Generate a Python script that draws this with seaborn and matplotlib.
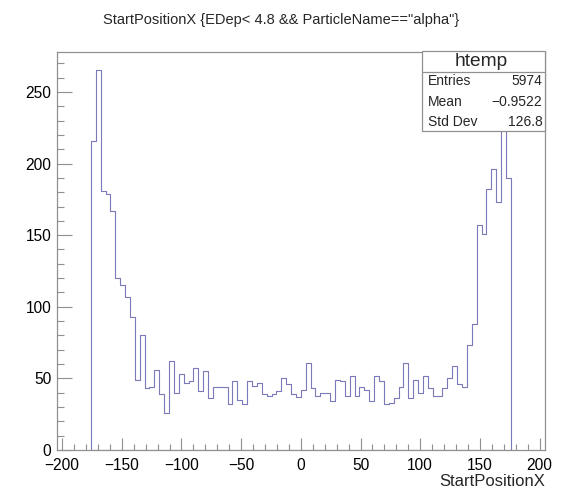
import numpy as np
import pandas as pd
import matplotlib
matplotlib.use("Agg")
import matplotlib.pyplot as plt
from matplotlib.ticker import MultipleLocator
from matplotlib.patches import Rectangle
from matplotlib.lines import Line2D
import seaborn as sns

# Histogram contents of StartPositionX (100 bins over the axis range,
# only the filled bins are listed, starting at bin index 7)
counts = [216, 265, 181, 179, 167, 120, 115, 107, 93, 49,
          80, 43, 44, 56, 39, 26, 62, 40, 53, 47,
          48, 57, 41, 55, 36, 44, 44, 44, 32, 48,
          35, 32, 48, 45, 47, 39, 38, 39, 41, 50,
          46, 39, 37, 42, 61, 43, 38, 40, 40, 34,
          49, 48, 38, 52, 38, 44, 42, 34, 52, 48,
          32, 33, 36, 44, 61, 36, 49, 40, 52, 43,
          38, 38, 43, 50, 59, 46, 44, 73, 88, 157,
          151, 182, 196, 173, 241, 190]
x_min, x_max, n_bins = -204.5, 204.5, 100
first_filled = 7

stat_title = "htemp"
stat_names = ["Entries", "Mean", "Std Dev"]
stat_values = ["5974", "\u22120.9522", "126.8"]

title = 'StartPositionX {EDep< 4.8 && ParticleName=="alpha"}'
x_label = "StartPositionX"

sns.set_style("white")
plt.rcParams["font.family"] = ["Liberation Sans", "DejaVu Sans"]

W, H = 565, 491
fig = plt.figure(figsize=(W / 100, H / 100), dpi=100)

def fx(px):
    return px / W

def fy(py):
    return 1 - py / H

left, right, top, bottom = 56.7, 545.0, 51.5, 450.0
ax = fig.add_axes([fx(left), fy(bottom), fx(right) - fx(left), fy(top) - fy(bottom)])

edges_all = np.linspace(x_min, x_max, n_bins + 1)
edges = [float(e) for e in edges_all[first_filled:first_filled + len(counts) + 1]]
centers = [0.5 * (a + b) for a, b in zip(edges[:-1], edges[1:])]
df = pd.DataFrame({"x": centers, "n": counts})

line_color = "#7a7abb"
sns.histplot(data=df, x="x", weights="n", bins=edges, element="step", fill=True,
             color=line_color, ax=ax)
# outline only, closed down to zero at both ends
for coll in ax.collections:
    coll.set_facecolor("none")
    coll.set_edgecolor(line_color)
    coll.set_alpha(1)
    coll.set_linewidth(0.8)

ax.set_xlim(x_min, x_max)
ax.set_ylim(0, max(counts) * 1.05)
ax.set_ylabel("")
ax.set_xlabel("")

frame_color = "#909090"
for s in ax.spines.values():
    s.set_color(frame_color)
    s.set_linewidth(0.9)
    s.set_zorder(3)

ax.xaxis.set_major_locator(MultipleLocator(50))
ax.xaxis.set_minor_locator(MultipleLocator(10))
ax.yaxis.set_major_locator(MultipleLocator(50))
ax.yaxis.set_minor_locator(MultipleLocator(10))
ax.tick_params(bottom=True, left=True, top=False, right=False, which="both")
ax.tick_params(axis="x", which="major", direction="in", length=8.6, width=0.8,
               color=frame_color, labelsize=11.2, pad=5.5, labelcolor="black")
ax.tick_params(axis="x", which="minor", direction="in", length=4.3, width=0.8,
               color=frame_color)
ax.tick_params(axis="y", which="major", direction="in", length=10.5, width=0.8,
               color=frame_color, labelsize=11.2, pad=4, labelcolor="black")
ax.tick_params(axis="y", which="minor", direction="in", length=5.3, width=0.8,
               color=frame_color)

fig.text(fx(right), fy(482), x_label, ha="right", va="center", fontsize=12)
fig.text(fx(281.5), fy(20), title, ha="center", va="center", fontsize=10.5)

# statistics box
bx0, bx1, by0, by1 = 421.5, 545, 51, 130.5
fig.patches.append(Rectangle((fx(bx0), fy(by1)), fx(bx1) - fx(bx0), fy(by0) - fy(by1),
                             transform=fig.transFigure, facecolor="white",
                             edgecolor=frame_color, linewidth=0.9, zorder=5))
fig.lines.append(Line2D([fx(bx0), fx(bx1)], [fy(71.7), fy(71.7)], transform=fig.transFigure,
                        color=frame_color, linewidth=0.9, zorder=6))
fig.text(fx(481), fy(61), stat_title, ha="center", va="center",
         fontsize=13.8, zorder=7)
for i, (name, val) in enumerate(zip(stat_names, stat_values)):
    yy = fy(81 + 20.6 * i)
    fig.text(fx(427.5), yy, name, ha="left", va="center", fontsize=10, zorder=7)
    fig.text(fx(542.5), yy, val, ha="right", va="center", fontsize=10, zorder=7)

fig.savefig("out.png", dpi=100)
